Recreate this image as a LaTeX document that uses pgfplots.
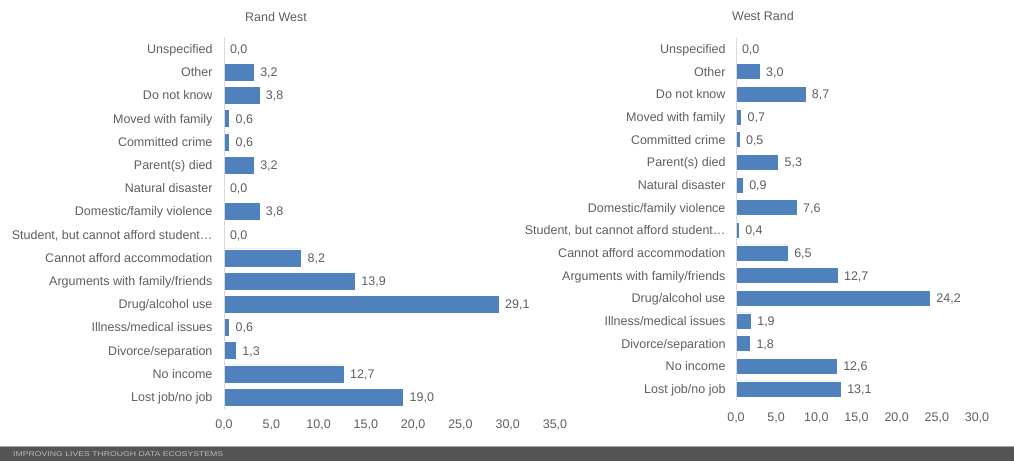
\documentclass[border=0pt]{standalone}
\usepackage{pgfplots}
\pgfplotsset{compat=1.18}
\usepackage{pgfplotstable}
\usepackage{fontspec}
\setmainfont{Liberation Sans}
\definecolor{txt}{HTML}{5E5E5E}
\definecolor{barblue}{HTML}{4F81BD}
\definecolor{axgray}{HTML}{D9D9D9}
\definecolor{band}{HTML}{555555}

\pgfplotstableread{
idx val
0 0.0
1 3.2
2 3.8
3 0.6
4 0.6
5 3.2
6 0.0
7 3.8
8 0.0
9 8.2
10 13.9
11 29.1
12 0.6
13 1.3
14 12.7
15 19.0
}\randwest

\pgfplotstableread{
idx val
0 0.0
1 3.0
2 8.7
3 0.7
4 0.5
5 5.3
6 0.9
7 7.6
8 0.4
9 6.5
10 12.7
11 24.2
12 1.9
13 1.8
14 12.6
15 13.1
}\westrand

\pgfplotsset{
  mybars/.style={
    scale only axis,
    anchor=south west,
    xbar,
    y dir=reverse,
    ymin=-0.5, ymax=15.5,
    xmin=0,
    ytick={0,...,15},
    yticklabels={Unspecified,Other,Do not know,Moved with family,Committed crime,Parent(s) died,Natural disaster,Domestic/family violence,{Student, but cannot afford student…},Cannot afford accommodation,Arguments with family/friends,Drug/alcohol use,Illness/medical issues,Divorce/separation,No income,Lost job/no job},
    axis line style={draw=none},
    major tick length=0pt,
    tick label style={font=\fontsize{12.5}{14}\selectfont, text=txt, text height=9pt, text depth=2.5pt},
    y tick label style={yshift=-1.2pt},
    scaled x ticks=false,
    /pgf/number format/fixed,
    /pgf/number format/fixed zerofill,
    /pgf/number format/precision=1,
    /pgf/number format/use comma,
    /pgf/number format/assume math mode=true,
    nodes near coords,
    every node near coord/.append style={font=\fontsize{12.5}{14}\selectfont, text=txt, anchor=west, xshift=2.5pt, yshift=-1.2pt, text height=9pt, text depth=2.5pt},
    clip=false,
  }
}

\begin{document}
\begin{tikzpicture}
\path[use as bounding box] (0pt,0pt) rectangle (1014pt,461pt);
\fill[band] (0pt,0pt) rectangle (1014pt,14.3pt);
\draw[black!35, line width=1pt] (0pt,14.3pt) -- (1014pt,14.3pt);
\node[anchor=west, text=white!72!black, font=\fontsize{7}{8}\selectfont, inner sep=0pt, xscale=1.24] at (13pt,7pt) {IMPROVING LIVES THROUGH DATA ECOSYSTEMS};

\node[text=txt, font=\fontsize{12.5}{14}\selectfont] at (276pt,444pt) {Rand West};
\node[text=txt, font=\fontsize{12.5}{14}\selectfont] at (763pt,445pt) {West Rand};

\begin{axis}[mybars,
  at={(224pt,52.4pt)}, width=331pt, height=371.2pt,
  xmax=35, xtick={0,5,...,35},
  bar width=18pt,
  x tick label style={yshift=-7pt},
  y tick label style={xshift=-8pt},
]
\addplot[fill=barblue, draw=white, line width=0.4pt] table[x=val,y=idx] {\randwest};
\draw[axgray, line width=0.8pt] (axis cs:0,-0.5) -- (axis cs:0,15.5);
\end{axis}

\begin{axis}[mybars,
  at={(736pt,60.7pt)}, width=241pt, height=362.6pt,
  xmax=30, xtick={0,5,...,30},
  bar width=16pt,
  x tick label style={yshift=-9pt},
  y tick label style={xshift=-7pt},
]
\addplot[fill=barblue, draw=white, line width=0.4pt] table[x=val,y=idx] {\westrand};
\draw[axgray, line width=0.8pt] (axis cs:0,-0.5) -- (axis cs:0,15.5);
\end{axis}
\end{tikzpicture}
\end{document}
